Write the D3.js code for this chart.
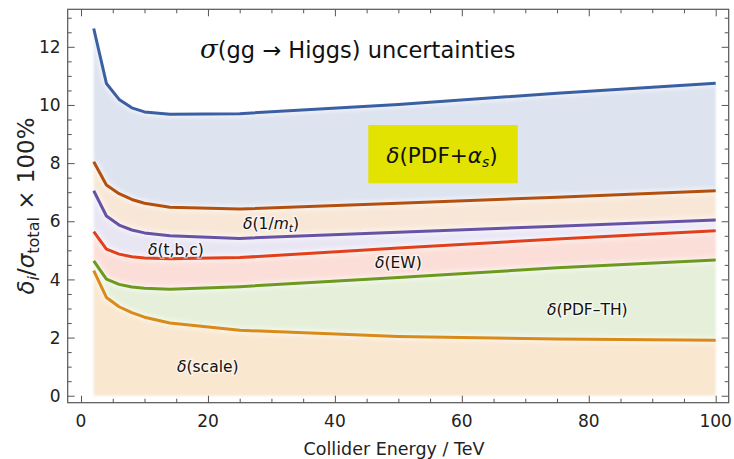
<!DOCTYPE html>
<html>
<head>
<meta charset="utf-8">
<script src="https://cdn.jsdelivr.net/npm/d3@7/dist/d3.min.js"></script>
<style>
  html, body { margin: 0; padding: 0; background: #ffffff; }
  svg { display: block; }
  text { font-family: "DejaVu Sans", sans-serif; }
</style>
</head>
<body>
<svg id="chart" width="734" height="459"></svg>
<script>
// Collider energies (TeV) at which the uncertainties are evaluated
const energies = [2, 4, 6, 8, 10, 14, 25, 50, 75, 100];

// Cumulative uncertainty curves, in percent of the total cross section
const totalPdfAlphaS = [12.63, 10.74, 10.19, 9.90, 9.76, 9.68, 9.70, 10.02, 10.40, 10.75];
const upToInvMt      = [8.05, 7.25, 6.95, 6.75, 6.62, 6.48, 6.42, 6.62, 6.83, 7.05];
const upToTbc        = [7.05, 6.18, 5.87, 5.70, 5.60, 5.50, 5.41, 5.62, 5.83, 6.04];
const upToEw         = [5.64, 5.04, 4.87, 4.78, 4.74, 4.71, 4.75, 5.08, 5.39, 5.67];
const upToPdfTh      = [4.64, 4.01, 3.83, 3.74, 3.70, 3.66, 3.75, 4.07, 4.40, 4.67];
const upToScale      = [4.30, 3.38, 3.06, 2.86, 2.70, 2.50, 2.25, 2.04, 1.95, 1.91];

// Tick values
const xTicksMajor = [0, 20, 40, 60, 80, 100];
const yTicksMajor = [0, 2, 4, 6, 8, 10, 12];

const svg = d3.select("#chart");

const frame = { left: 67.7, right: 728.7, top: 9.3, bottom: 402.7 };
const x = d3.scaleLinear().domain([-2.1, 102.05]).range([frame.left, frame.right]);
const y = d3.scaleLinear().domain([-0.24, 13.29]).range([frame.bottom, frame.top]);

// Bands: each drawn from the curve below it up to its own curve
const curves = [
  { name: "pdf",   values: totalPdfAlphaS, line: "#3a5fa2", fill: "#dde3ef" },
  { name: "mt",    values: upToInvMt,      line: "#b4500f", fill: "#f8e7d7" },
  { name: "tbc",   values: upToTbc,        line: "#6753a6", fill: "#e9e6f4" },
  { name: "ew",    values: upToEw,         line: "#e2401b", fill: "#fbded8" },
  { name: "pdfth", values: upToPdfTh,      line: "#6c9a1f", fill: "#e5efd9" },
  { name: "scale", values: upToScale,      line: "#d98a18", fill: "#f9e7d0" }
];

const defs = svg.append("defs");
defs.append("filter").attr("id", "soft")
  .append("feGaussianBlur").attr("stdDeviation", 1.2);
defs.append("filter").attr("id", "halo")
  .append("feGaussianBlur").attr("stdDeviation", 2);

const gBands = svg.append("g").attr("filter", "url(#soft)");
curves.forEach((c, i) => {
  const below = i < curves.length - 1 ? curves[i + 1].values : energies.map(() => 0);
  const pts = energies.map((e, k) => ({ e, hi: c.values[k], lo: below[k] }));
  const area = d3.area()
    .x(d => x(d.e))
    .y0(d => y(d.lo))
    .y1(d => y(d.hi));
  gBands.append("path").datum(pts).attr("d", area).attr("fill", c.fill);
});

// Soft white halo under the curves
const lineGen = d3.line().x(d => x(d.e)).y(d => y(d.v));
const gHalo = svg.append("g").attr("filter", "url(#halo)");
curves.forEach(c => {
  const pts = energies.map((e, k) => ({ e, v: c.values[k] }));
  gHalo.append("path").datum(pts).attr("d", lineGen)
    .attr("fill", "none").attr("stroke", "#ffffff").attr("stroke-opacity", 0.55)
    .attr("stroke-width", 7);
});
const gLines = svg.append("g");
curves.forEach(c => {
  const pts = energies.map((e, k) => ({ e, v: c.values[k] }));
  gLines.append("path").datum(pts).attr("d", lineGen)
    .attr("fill", "none").attr("stroke", c.line)
    .attr("stroke-width", 3).attr("stroke-linejoin", "round");
});

// Frame with inward ticks on all four sides
const frameColor = "#555555";
svg.append("rect")
  .attr("x", frame.left).attr("y", frame.top)
  .attr("width", frame.right - frame.left).attr("height", frame.bottom - frame.top)
  .attr("fill", "none").attr("stroke", frameColor).attr("stroke-width", 1.2);

const xMinor = d3.range(0, 101, 5);
const yMinor = d3.range(0, 13.01, 0.5);

const axBottom = d3.axisBottom(x).tickValues(xMinor).tickSize(-4).tickFormat("");
const axTop = d3.axisTop(x).tickValues(xMinor).tickSize(-4).tickFormat("");
const axLeft = d3.axisLeft(y).tickValues(yMinor).tickSize(-4).tickFormat("");
const axRight = d3.axisRight(y).tickValues(yMinor).tickSize(-4).tickFormat("");

function styleAxis(g) {
  g.select(".domain").remove();
  g.selectAll(".tick line").attr("stroke", frameColor).attr("stroke-width", 1);
}
const gB = svg.append("g").attr("transform", `translate(0,${frame.bottom})`).call(axBottom).call(styleAxis);
const gT = svg.append("g").attr("transform", `translate(0,${frame.top})`).call(axTop).call(styleAxis);
const gL = svg.append("g").attr("transform", `translate(${frame.left},0)`).call(axLeft).call(styleAxis);
const gR = svg.append("g").attr("transform", `translate(${frame.right},0)`).call(axRight).call(styleAxis);

// Longer ticks at the major values
[gB, gT].forEach((g, i) => {
  g.selectAll(".tick").filter(d => xTicksMajor.includes(d)).select("line")
    .attr("y2", i === 0 ? -7 : 7);
});
[gL, gR].forEach((g, i) => {
  g.selectAll(".tick").filter(d => yTicksMajor.includes(d)).select("line")
    .attr("x2", i === 0 ? 7 : -7);
});

// Tick labels
svg.append("g").selectAll("text").data(xTicksMajor).join("text")
  .attr("x", d => x(d)).attr("y", frame.bottom + 24)
  .attr("text-anchor", "middle").attr("font-size", 17).attr("fill", "#222")
  .text(d => d);
svg.append("g").selectAll("text").data(yTicksMajor).join("text")
  .attr("x", frame.left - 7).attr("y", d => y(d)).attr("dy", "0.36em")
  .attr("text-anchor", "end").attr("font-size", 17).attr("fill", "#222")
  .text(d => d);

// Axis titles
svg.append("text")
  .attr("x", 394).attr("y", 455)
  .attr("text-anchor", "middle").attr("font-size", 17.5).attr("fill", "#222")
  .text("Collider Energy / TeV");

const yTitle = svg.append("text")
  .attr("transform", "translate(34,206) rotate(-90)")
  .attr("text-anchor", "middle")
  .attr("font-family", "'DejaVu Serif', serif")
  .attr("font-size", 23).attr("fill", "#222");
yTitle.append("tspan").attr("font-style", "italic").text("δ");
yTitle.append("tspan").attr("font-style", "italic").attr("font-size", 16).attr("dy", 5).text("i");
yTitle.append("tspan").attr("dy", -5).text("/");
yTitle.append("tspan").attr("font-style", "italic").text("σ");
yTitle.append("tspan").attr("font-size", 16).attr("dy", 5).text("total");
yTitle.append("tspan").attr("dy", -5).text(" × 100%");

// Chart title
const title = svg.append("text").attr("x", 200).attr("y", 58).attr("font-size", 22.5).attr("fill", "#111");
title.append("tspan").attr("font-family", "'DejaVu Serif', serif").attr("font-style", "italic").attr("font-size", 26).text("σ");
title.append("tspan").text("(gg → Higgs) uncertainties");

// Highlighted PDF+αs label
svg.append("rect")
  .attr("x", 368.3).attr("y", 125).attr("width", 149.4).attr("height", 58.3)
  .attr("fill", "#e2e300");
const hl = svg.append("text").attr("x", 442).attr("y", 163).attr("text-anchor", "middle")
  .attr("font-size", 21.5).attr("fill", "#111");
hl.append("tspan").attr("font-style", "italic").text("δ");
hl.append("tspan").text("(PDF+");
hl.append("tspan").attr("font-style", "italic").text("α");
hl.append("tspan").attr("font-style", "italic").attr("font-size", 14).attr("dy", 4).text("s");
hl.append("tspan").attr("dy", -4).text(")");

// Band labels
const bandLabels = [
  { x: 243, y: 229, parts: [["δ", true], ["(1/", false], ["m", true], ["t", true, "sub"], [")", false]] },
  { x: 148, y: 255, parts: [["δ", true], ["(t,b,c)", false]] },
  { x: 375, y: 268, parts: [["δ", true], ["(EW)", false]] },
  { x: 547, y: 315, parts: [["δ", true], ["(PDF–TH)", false]] },
  { x: 177, y: 372, parts: [["δ", true], ["(scale)", false]] }
];
bandLabels.forEach(l => {
  const t = svg.append("text").attr("x", l.x).attr("y", l.y)
    .attr("font-size", 15.5).attr("fill", "#111")
    .attr("stroke", "#ffffff").attr("stroke-opacity", 0.5).attr("stroke-width", 3)
    .attr("paint-order", "stroke");
  let shifted = false;
  l.parts.forEach(p => {
    const ts = t.append("tspan").text(p[0]);
    if (p[1]) ts.attr("font-style", "italic");
    if (p[2] === "sub") { ts.attr("font-size", 11).attr("dy", 3); shifted = true; }
    else if (shifted) { ts.attr("dy", -3); shifted = false; }
  });
});
</script>
</body>
</html>
